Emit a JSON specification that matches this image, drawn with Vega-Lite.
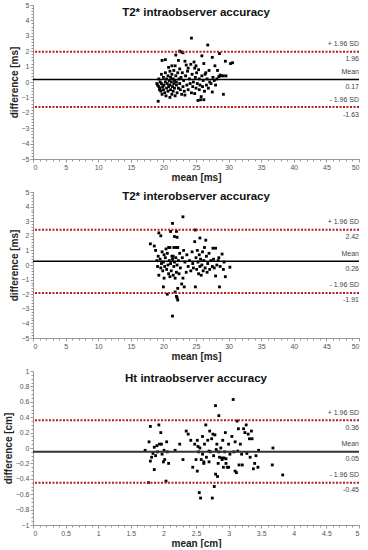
{
"$schema": "https://vega.github.io/schema/vega-lite/v6.json",
"padding": {"left": 3, "top": 1, "right": 5, "bottom": 0},
"spacing": 6,
"config": {"view": {"stroke": null}, "font": "Liberation Sans",
  "axis": {"grid": false, "domainColor": "#999", "tickColor": "#999", "tickSize": 3, "labelFontSize": 7, "labelColor": "#555", "labelPadding": 1, "titleFontSize": 10, "titleFontWeight": "bold", "titleColor": "#222", "titlePadding": 2}},
"datasets": {
"p1": [
{"m":19.0,"d":-0.1},{"m":19.1,"d":-0.2},{"m":19.2,"d":-1.25},{"m":19.3,"d":0.2},{"m":19.3,"d":-0.3},{"m":19.4,"d":-0.5},{"m":19.5,"d":0.0},{"m":19.5,"d":-0.4},{"m":19.6,"d":-0.6},{"m":19.7,"d":0.5},{"m":19.7,"d":-0.1},{"m":19.8,"d":1.4},{"m":19.8,"d":-0.8},{"m":19.9,"d":-0.3},{"m":20.0,"d":0.3},{"m":20.0,"d":-0.5},{"m":20.1,"d":-0.2},{"m":20.2,"d":-0.7},{"m":20.3,"d":1.45},{"m":20.3,"d":0.6},{"m":20.3,"d":0.0},{"m":20.4,"d":-0.9},{"m":20.5,"d":-0.4},{"m":20.5,"d":0.2},{"m":20.6,"d":-0.1},{"m":20.7,"d":0.4},{"m":20.7,"d":-0.6},{"m":20.8,"d":0.95},{"m":20.8,"d":-0.3},{"m":20.9,"d":0.1},{"m":21.0,"d":-1.0},{"m":21.0,"d":0.7},{"m":21.0,"d":-0.2},{"m":21.1,"d":0.3},{"m":21.1,"d":-0.5},{"m":21.2,"d":0.0},{"m":21.3,"d":1.05},{"m":21.3,"d":-0.8},{"m":21.3,"d":0.5},{"m":21.4,"d":-0.3},{"m":21.5,"d":0.2},{"m":21.5,"d":-0.6},{"m":21.6,"d":0.75},{"m":21.6,"d":-0.1},{"m":21.7,"d":0.1},{"m":21.7,"d":-0.4},{"m":21.8,"d":1.05},{"m":21.8,"d":-0.9},{"m":21.9,"d":1.75},{"m":21.9,"d":0.4},{"m":22.0,"d":-0.2},{"m":22.0,"d":0.0},{"m":22.1,"d":-0.7},{"m":22.2,"d":0.6},{"m":22.3,"d":1.4},{"m":22.3,"d":-0.4},{"m":22.4,"d":0.2},{"m":22.5,"d":2.0},{"m":22.5,"d":0.85},{"m":22.5,"d":-0.1},{"m":22.6,"d":-0.5},{"m":22.7,"d":0.3},{"m":22.8,"d":1.95},{"m":22.8,"d":-0.8},{"m":22.9,"d":0.6},{"m":23.0,"d":1.9},{"m":23.0,"d":-0.3},{"m":23.1,"d":0.1},{"m":23.2,"d":-0.6},{"m":23.3,"d":1.35},{"m":23.3,"d":-0.85},{"m":23.4,"d":0.4},{"m":23.5,"d":1.1},{"m":23.6,"d":-0.2},{"m":23.7,"d":0.7},{"m":23.8,"d":0.9},{"m":23.8,"d":-0.5},{"m":24.0,"d":0.2},{"m":24.1,"d":-0.1},{"m":24.2,"d":1.15},{"m":24.3,"d":2.85},{"m":24.3,"d":-0.7},{"m":24.4,"d":0.5},{"m":24.5,"d":-0.3},{"m":24.6,"d":0.0},{"m":24.7,"d":1.3},{"m":24.8,"d":0.9},{"m":24.8,"d":-0.75},{"m":24.9,"d":0.3},{"m":25.0,"d":1.05},{"m":25.0,"d":-0.4},{"m":25.1,"d":0.6},{"m":25.2,"d":-0.1},{"m":25.3,"d":-1.2},{"m":25.4,"d":0.8},{"m":25.5,"d":0.2},{"m":25.5,"d":-0.5},{"m":25.6,"d":-0.2},{"m":25.7,"d":-1.15},{"m":25.8,"d":-0.95},{"m":25.9,"d":1.7},{"m":25.9,"d":0.4},{"m":26.0,"d":-0.3},{"m":26.1,"d":0.1},{"m":26.2,"d":1.2},{"m":26.2,"d":-1.15},{"m":26.3,"d":-0.6},{"m":26.4,"d":0.5},{"m":26.5,"d":0.6},{"m":26.6,"d":-0.2},{"m":26.7,"d":0.2},{"m":26.8,"d":2.4},{"m":26.9,"d":-0.4},{"m":27.0,"d":0.75},{"m":27.1,"d":0.0},{"m":27.3,"d":-0.1},{"m":27.5,"d":1.6},{"m":27.5,"d":-0.65},{"m":27.6,"d":0.3},{"m":27.8,"d":0.1},{"m":27.9,"d":1.05},{"m":28.0,"d":-0.2},{"m":28.2,"d":0.2},{"m":28.3,"d":0.75},{"m":28.5,"d":0.35},{"m":28.6,"d":1.85},{"m":28.7,"d":0.45},{"m":28.9,"d":0.4},{"m":29.2,"d":-0.8},{"m":29.2,"d":0.4},{"m":29.5,"d":1.35},{"m":29.6,"d":0.4},{"m":30.3,"d":1.2},{"m":30.6,"d":1.25}
],
"p2": [
{"m":18.0,"d":1.45},{"m":18.6,"d":1.3},{"m":18.8,"d":1.0},{"m":19.0,"d":0.3},{"m":19.1,"d":-0.1},{"m":19.2,"d":0.6},{"m":19.3,"d":2.2},{"m":19.3,"d":-0.7},{"m":19.5,"d":0.4},{"m":19.6,"d":2.0},{"m":19.6,"d":-0.2},{"m":19.7,"d":0.1},{"m":19.8,"d":0.9},{"m":19.9,"d":-0.4},{"m":20.0,"d":-1.5},{"m":20.0,"d":0.2},{"m":20.1,"d":0.7},{"m":20.1,"d":-0.9},{"m":20.2,"d":-0.1},{"m":20.3,"d":0.5},{"m":20.4,"d":1.1},{"m":20.5,"d":-0.3},{"m":20.6,"d":-2.0},{"m":20.6,"d":0.8},{"m":20.7,"d":0.0},{"m":20.8,"d":1.2},{"m":20.8,"d":-0.6},{"m":20.9,"d":0.3},{"m":21.0,"d":-0.8},{"m":21.0,"d":1.2},{"m":21.1,"d":2.3},{"m":21.1,"d":0.1},{"m":21.2,"d":-0.4},{"m":21.3,"d":0.6},{"m":21.4,"d":2.85},{"m":21.4,"d":-3.5},{"m":21.4,"d":0.4},{"m":21.5,"d":-0.7},{"m":21.5,"d":0.6},{"m":21.6,"d":1.2},{"m":21.6,"d":-0.1},{"m":21.7,"d":1.95},{"m":21.7,"d":0.2},{"m":21.8,"d":-1.85},{"m":21.8,"d":-0.9},{"m":21.9,"d":0.5},{"m":22.0,"d":2.3},{"m":22.0,"d":1.2},{"m":22.0,"d":-2.15},{"m":22.0,"d":-0.5},{"m":22.1,"d":1.9},{"m":22.1,"d":-2.25},{"m":22.1,"d":0.0},{"m":22.2,"d":-2.4},{"m":22.2,"d":-1.6},{"m":22.2,"d":1.2},{"m":22.3,"d":0.3},{"m":22.4,"d":-0.6},{"m":22.5,"d":0.8},{"m":22.6,"d":-0.2},{"m":22.8,"d":-1.3},{"m":22.9,"d":0.5},{"m":23.0,"d":3.3},{"m":23.0,"d":-0.9},{"m":23.1,"d":1.0},{"m":23.2,"d":-1.5},{"m":23.3,"d":0.2},{"m":23.5,"d":-0.5},{"m":23.6,"d":0.7},{"m":23.8,"d":-0.1},{"m":24.0,"d":0.3},{"m":24.2,"d":-0.4},{"m":24.4,"d":0.9},{"m":24.5,"d":0.1},{"m":24.6,"d":-0.2},{"m":24.8,"d":1.6},{"m":24.9,"d":2.4},{"m":24.9,"d":-1.5},{"m":25.0,"d":0.5},{"m":25.1,"d":-0.3},{"m":25.2,"d":1.0},{"m":25.3,"d":0.2},{"m":25.4,"d":-0.6},{"m":25.5,"d":0.7},{"m":25.6,"d":1.85},{"m":25.6,"d":-0.1},{"m":25.7,"d":0.4},{"m":25.8,"d":-0.7},{"m":25.9,"d":0.0},{"m":26.0,"d":0.9},{"m":26.1,"d":-0.4},{"m":26.2,"d":0.3},{"m":26.3,"d":1.2},{"m":26.4,"d":-0.2},{"m":26.5,"d":1.7},{"m":26.6,"d":0.6},{"m":26.7,"d":-0.5},{"m":26.8,"d":0.1},{"m":27.0,"d":0.8},{"m":27.1,"d":-0.3},{"m":27.3,"d":0.3},{"m":27.5,"d":-0.1},{"m":27.6,"d":1.15},{"m":27.7,"d":0.4},{"m":27.8,"d":-0.2},{"m":28.0,"d":1.15},{"m":28.0,"d":-0.75},{"m":28.2,"d":0.0},{"m":28.4,"d":0.3},{"m":28.5,"d":0.5},{"m":28.6,"d":-1.5},{"m":28.7,"d":-0.1},{"m":29.0,"d":0.75},{"m":29.2,"d":-0.3},{"m":29.3,"d":0.2},{"m":29.5,"d":-0.8},{"m":30.2,"d":-0.15}
],
"p3": [
{"m":1.72,"d":-0.03},{"m":1.77,"d":-0.45},{"m":1.78,"d":0.08},{"m":1.8,"d":0.28},{"m":1.8,"d":-0.17},{"m":1.82,"d":-0.12},{"m":1.84,"d":-0.07},{"m":1.86,"d":0.01},{"m":1.86,"d":-0.28},{"m":1.88,"d":-0.1},{"m":1.9,"d":0.03},{"m":1.91,"d":-0.05},{"m":1.93,"d":0.3},{"m":1.94,"d":0.05},{"m":1.96,"d":0.2},{"m":1.97,"d":0.05},{"m":1.98,"d":-0.08},{"m":2.0,"d":-0.18},{"m":2.01,"d":-0.03},{"m":2.02,"d":-0.15},{"m":2.04,"d":-0.43},{"m":2.05,"d":0.08},{"m":2.06,"d":-0.05},{"m":2.08,"d":-0.2},{"m":2.18,"d":-0.03},{"m":2.25,"d":0.05},{"m":2.3,"d":-0.15},{"m":2.35,"d":0.22},{"m":2.38,"d":0.18},{"m":2.42,"d":0.1},{"m":2.45,"d":-0.25},{"m":2.48,"d":0.05},{"m":2.5,"d":-0.15},{"m":2.52,"d":-0.3},{"m":2.52,"d":0.1},{"m":2.53,"d":0.02},{"m":2.54,"d":-0.05},{"m":2.55,"d":-0.58},{"m":2.56,"d":0.0},{"m":2.57,"d":-0.65},{"m":2.58,"d":-0.15},{"m":2.6,"d":0.15},{"m":2.6,"d":-0.08},{"m":2.62,"d":-0.2},{"m":2.62,"d":-0.18},{"m":2.63,"d":0.05},{"m":2.65,"d":0.3},{"m":2.66,"d":-0.12},{"m":2.68,"d":0.1},{"m":2.7,"d":-0.18},{"m":2.7,"d":-0.04},{"m":2.71,"d":0.22},{"m":2.72,"d":-0.05},{"m":2.74,"d":0.12},{"m":2.75,"d":-0.65},{"m":2.76,"d":0.18},{"m":2.77,"d":-0.1},{"m":2.78,"d":-0.5},{"m":2.79,"d":0.17},{"m":2.8,"d":0.55},{"m":2.8,"d":-0.34},{"m":2.81,"d":-0.02},{"m":2.82,"d":0.05},{"m":2.83,"d":-0.37},{"m":2.84,"d":-0.2},{"m":2.85,"d":0.42},{"m":2.85,"d":-0.05},{"m":2.86,"d":-0.12},{"m":2.88,"d":0.0},{"m":2.9,"d":-0.15},{"m":2.9,"d":-0.13},{"m":2.91,"d":0.1},{"m":2.92,"d":-0.25},{"m":2.93,"d":-0.13},{"m":2.94,"d":-0.05},{"m":2.95,"d":0.2},{"m":2.96,"d":-0.14},{"m":2.96,"d":-0.2},{"m":2.98,"d":-0.25},{"m":3.0,"d":0.05},{"m":3.0,"d":-0.25},{"m":3.02,"d":-0.08},{"m":3.05,"d":0.15},{"m":3.07,"d":0.63},{"m":3.08,"d":-0.05},{"m":3.1,"d":-0.3},{"m":3.1,"d":0.08},{"m":3.12,"d":-0.32},{"m":3.13,"d":0.35},{"m":3.14,"d":-0.04},{"m":3.15,"d":0.25},{"m":3.16,"d":-0.22},{"m":3.18,"d":0.05},{"m":3.2,"d":-0.08},{"m":3.21,"d":-0.22},{"m":3.23,"d":0.25},{"m":3.25,"d":0.2},{"m":3.27,"d":0.3},{"m":3.28,"d":-0.07},{"m":3.3,"d":0.18},{"m":3.32,"d":0.12},{"m":3.33,"d":-0.12},{"m":3.35,"d":0.22},{"m":3.36,"d":0.12},{"m":3.38,"d":-0.27},{"m":3.4,"d":-0.2},{"m":3.42,"d":-0.1},{"m":3.45,"d":-0.25},{"m":3.46,"d":-0.03},{"m":3.67,"d":-0.22},{"m":3.68,"d":0.0},{"m":3.83,"d":-0.35}
],
"l1": [{"k":"lim","v":1.96,"lab":"+ 1.96 SD","num":"1.96"},{"k":"mean","v":0.17,"lab":"Mean","num":"0.17"},{"k":"lim","v":-1.63,"lab":"- 1.96 SD","num":"-1.63"}],
"l2": [{"k":"lim","v":2.42,"lab":"+ 1.96 SD","num":"2.42"},{"k":"mean","v":0.26,"lab":"Mean","num":"0.26"},{"k":"lim","v":-1.91,"lab":"- 1.96 SD","num":"-1.91"}],
"l3": [{"k":"lim","v":0.36,"lab":"+ 1.96 SD","num":"0.36"},{"k":"mean","v":-0.05,"lab":"Mean","num":"0.05"},{"k":"lim","v":-0.45,"lab":"- 1.96 SD","num":"-0.45"}]
},
"vconcat": [
{
 "width": 326, "height": 154,
 "title": {"text": "T2* intraobserver accuracy", "fontSize": 11.5, "fontWeight": "bold", "color": "#111", "offset": -17, "anchor": "middle"},
 "resolve": {"axis": {"x": "independent", "y": "independent"}},
 "layer": [
  {"data": {"name": "p1"}, "mark": {"type": "square", "size": 8, "color": "#000", "opacity": 1},
   "encoding": {"x": {"field": "m", "type": "quantitative", "scale": {"domain": [0, 50]}, "axis": {"title": "mean [ms]", "tickCount": 10}},
    "y": {"field": "d", "type": "quantitative", "scale": {"domain": [-5, 5]}, "axis": {"title": "difference  [ms]", "tickCount": 10}}}},
  {"data": {"name": "l1"}, "transform": [{"filter": "datum.k == 'lim'"}], "mark": {"type": "rule", "color": "#b32020", "strokeWidth": 2, "strokeDash": [2, 1.5]},
   "encoding": {"y": {"field": "v", "type": "quantitative", "scale": {"domain": [-5, 5]}, "axis": null}}},
  {"data": {"name": "l1"}, "transform": [{"filter": "datum.k == 'mean'"}], "mark": {"type": "rule", "color": "#000", "strokeWidth": 1.5},
   "encoding": {"y": {"field": "v", "type": "quantitative", "scale": {"domain": [-5, 5]}, "axis": null}}},
  {"data": {"name": "l1"}, "mark": {"type": "text", "align": "right", "baseline": "middle", "dy": -7.5, "fontSize": 7, "color": "#444"},
   "encoding": {"x": {"datum": 50, "type": "quantitative", "scale": {"domain": [0, 50]}, "axis": {"orient": "bottom", "tickCount": 50, "labels": false, "domain": false, "tickSize": 2, "title": null}},
    "y": {"field": "v", "type": "quantitative", "scale": {"domain": [-5, 5]}, "axis": {"orient": "left", "tickCount": 50, "labels": false, "domain": false, "tickSize": 2, "title": null}},
    "text": {"field": "lab"}}},
  {"data": {"name": "l1"}, "mark": {"type": "text", "align": "right", "baseline": "middle", "dy": 7.5, "fontSize": 7, "color": "#444"},
   "encoding": {"x": {"datum": 50, "type": "quantitative", "scale": {"domain": [0, 50]}, "axis": null},
    "y": {"field": "v", "type": "quantitative", "scale": {"domain": [-5, 5]}, "axis": null},
    "text": {"field": "num"}}}
 ]
},
{
 "width": 326, "height": 146,
 "title": {"text": "T2* interobserver accuracy", "fontSize": 11.5, "fontWeight": "bold", "color": "#111", "offset": -14, "anchor": "middle"},
 "resolve": {"axis": {"x": "independent", "y": "independent"}},
 "layer": [
  {"data": {"name": "p2"}, "mark": {"type": "square", "size": 8, "color": "#000", "opacity": 1},
   "encoding": {"x": {"field": "m", "type": "quantitative", "scale": {"domain": [0, 50]}, "axis": {"title": "mean [ms]", "tickCount": 10}},
    "y": {"field": "d", "type": "quantitative", "scale": {"domain": [-5, 5]}, "axis": {"title": "difference [ms]", "tickCount": 10}}}},
  {"data": {"name": "l2"}, "transform": [{"filter": "datum.k == 'lim'"}], "mark": {"type": "rule", "color": "#b32020", "strokeWidth": 2, "strokeDash": [2, 1.5]},
   "encoding": {"y": {"field": "v", "type": "quantitative", "scale": {"domain": [-5, 5]}, "axis": null}}},
  {"data": {"name": "l2"}, "transform": [{"filter": "datum.k == 'mean'"}], "mark": {"type": "rule", "color": "#000", "strokeWidth": 1.5},
   "encoding": {"y": {"field": "v", "type": "quantitative", "scale": {"domain": [-5, 5]}, "axis": null}}},
  {"data": {"name": "l2"}, "mark": {"type": "text", "align": "right", "baseline": "middle", "dy": -7.5, "fontSize": 7, "color": "#444"},
   "encoding": {"x": {"datum": 50, "type": "quantitative", "scale": {"domain": [0, 50]}, "axis": {"orient": "bottom", "tickCount": 50, "labels": false, "domain": false, "tickSize": 2, "title": null}},
    "y": {"field": "v", "type": "quantitative", "scale": {"domain": [-5, 5]}, "axis": {"orient": "left", "tickCount": 50, "labels": false, "domain": false, "tickSize": 2, "title": null}},
    "text": {"field": "lab"}}},
  {"data": {"name": "l2"}, "mark": {"type": "text", "align": "right", "baseline": "middle", "dy": 7.5, "fontSize": 7, "color": "#444"},
   "encoding": {"x": {"datum": 50, "type": "quantitative", "scale": {"domain": [0, 50]}, "axis": null},
    "y": {"field": "v", "type": "quantitative", "scale": {"domain": [-5, 5]}, "axis": null},
    "text": {"field": "num"}}}
 ]
},
{
 "width": 326, "height": 154,
 "title": {"text": "Ht intraobserver accuracy", "fontSize": 11.5, "fontWeight": "bold", "color": "#111", "offset": -17, "anchor": "middle"},
 "resolve": {"axis": {"x": "independent", "y": "independent"}},
 "layer": [
  {"data": {"name": "p3"}, "mark": {"type": "square", "size": 8, "color": "#000", "opacity": 1},
   "encoding": {"x": {"field": "m", "type": "quantitative", "scale": {"domain": [0, 5]}, "axis": {"title": "mean [cm]", "tickCount": 10, "format": "~g"}},
    "y": {"field": "d", "type": "quantitative", "scale": {"domain": [-1, 1]}, "axis": {"title": "difference [cm]", "tickCount": 10, "format": "~g"}}}},
  {"data": {"name": "l3"}, "transform": [{"filter": "datum.k == 'lim'"}], "mark": {"type": "rule", "color": "#b32020", "strokeWidth": 2, "strokeDash": [2, 1.5]},
   "encoding": {"y": {"field": "v", "type": "quantitative", "scale": {"domain": [-1, 1]}, "axis": null}}},
  {"data": {"name": "l3"}, "transform": [{"filter": "datum.k == 'mean'"}], "mark": {"type": "rule", "color": "#333", "strokeWidth": 2},
   "encoding": {"y": {"field": "v", "type": "quantitative", "scale": {"domain": [-1, 1]}, "axis": null}}},
  {"data": {"name": "l3"}, "mark": {"type": "text", "align": "right", "baseline": "middle", "dy": -7.5, "fontSize": 7, "color": "#444"},
   "encoding": {"x": {"datum": 5, "type": "quantitative", "scale": {"domain": [0, 5]}, "axis": {"orient": "bottom", "tickCount": 50, "labels": false, "domain": false, "tickSize": 2, "title": null}},
    "y": {"field": "v", "type": "quantitative", "scale": {"domain": [-1, 1]}, "axis": {"orient": "left", "tickCount": 50, "labels": false, "domain": false, "tickSize": 2, "title": null}},
    "text": {"field": "lab"}}},
  {"data": {"name": "l3"}, "mark": {"type": "text", "align": "right", "baseline": "middle", "dy": 7.5, "fontSize": 7, "color": "#444"},
   "encoding": {"x": {"datum": 5, "type": "quantitative", "scale": {"domain": [0, 5]}, "axis": null},
    "y": {"field": "v", "type": "quantitative", "scale": {"domain": [-1, 1]}, "axis": null},
    "text": {"field": "num"}}}
 ]
}
]
}
